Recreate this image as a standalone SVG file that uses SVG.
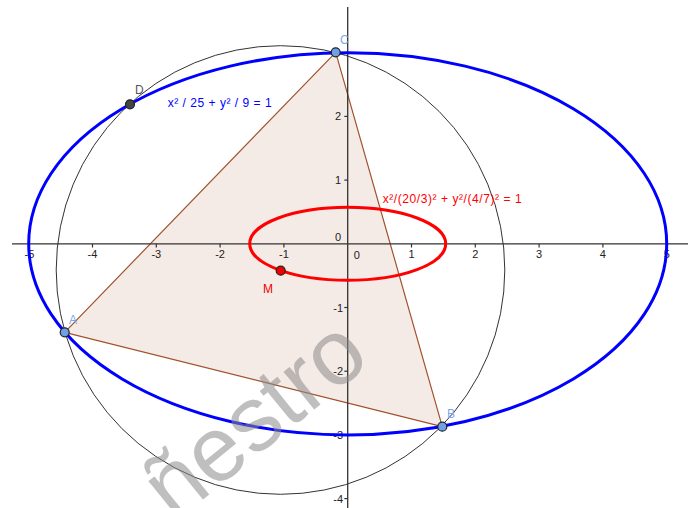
<svg xmlns="http://www.w3.org/2000/svg" width="696" height="508" viewBox="0 0 696 508">
<style>
  .axis { stroke: #333; stroke-width: 1.3; fill: none; }
  .tick { stroke: #333; stroke-width: 1.2; }
  .tl { font-family: "Liberation Sans", Arial, sans-serif; font-size: 11px; fill: #222; }
  .tx { text-anchor: middle; }
  .ty { text-anchor: end; }
  .lbl { font-family: "Liberation Sans", Arial, sans-serif; font-size: 12px; }
  .pt { stroke: #222; stroke-width: 1.2; }
</style>
<rect width="696" height="508" fill="#ffffff"/>

<g id="triangle">
  <polygon points="64.7,332.3 442.3,426.7 335.7,52.3" fill="#f5ebe6" stroke="#a0522d" stroke-width="1.2" stroke-linejoin="round"/>
</g>

<g id="axes">
  <line class="axis" x1="12" y1="243.8" x2="688" y2="243.8"/>
  <line class="axis" x1="347.7" y1="7" x2="347.7" y2="508"/>
  <g id="xticks">
    <line class="tick" x1="28.7" y1="243.8" x2="28.7" y2="247.5"/>
    <line class="tick" x1="92.5" y1="243.8" x2="92.5" y2="247.5"/>
    <line class="tick" x1="156.3" y1="243.8" x2="156.3" y2="247.5"/>
    <line class="tick" x1="220.1" y1="243.8" x2="220.1" y2="247.5"/>
    <line class="tick" x1="283.9" y1="243.8" x2="283.9" y2="247.5"/>
    <line class="tick" x1="411.5" y1="243.8" x2="411.5" y2="247.5"/>
    <line class="tick" x1="475.3" y1="243.8" x2="475.3" y2="247.5"/>
    <line class="tick" x1="539.1" y1="243.8" x2="539.1" y2="247.5"/>
    <line class="tick" x1="602.9" y1="243.8" x2="602.9" y2="247.5"/>
    <line class="tick" x1="666.7" y1="243.8" x2="666.7" y2="247.5"/>
  </g>
  <g id="yticks">
    <line class="tick" x1="344.3" y1="116.4" x2="347.7" y2="116.4"/>
    <line class="tick" x1="344.3" y1="180.1" x2="347.7" y2="180.1"/>
    <line class="tick" x1="344.3" y1="307.5" x2="347.7" y2="307.5"/>
    <line class="tick" x1="344.3" y1="371.2" x2="347.7" y2="371.2"/>
    <line class="tick" x1="344.3" y1="434.9" x2="347.7" y2="434.9"/>
    <line class="tick" x1="344.3" y1="498.6" x2="347.7" y2="498.6"/>
  </g>
  <g id="xlabels" class="tl tx">
    <text x="29.5" y="258">-5</text>
    <text x="92.5" y="258">-4</text>
    <text x="156.3" y="258">-3</text>
    <text x="220.1" y="258">-2</text>
    <text x="283.9" y="258">-1</text>
    <text x="356.7" y="259">0</text>
    <text x="411.5" y="258">1</text>
    <text x="475.3" y="258">2</text>
    <text x="539.1" y="258">3</text>
    <text x="602.9" y="258">4</text>
    <text x="666.7" y="258">5</text>
  </g>
  <g id="ylabels" class="tl ty">
    <text x="341" y="120.4">2</text>
    <text x="341" y="184">1</text>
    <text x="341" y="241">0</text>
    <text x="343" y="311.5">-1</text>
    <text x="343" y="375">-2</text>
    <text x="343" y="439">-3</text>
    <text x="343" y="502.5">-4</text>
  </g>
</g>

<g id="circle">
  <circle cx="280.5" cy="270" r="224.3" fill="none" stroke="#333" stroke-width="1"/>
</g>

<g id="ellipse-blue">
  <ellipse cx="347.7" cy="243.8" rx="319" ry="191.1" fill="none" stroke="#0000ff" stroke-width="3"/>
  <text class="lbl" x="167.7" y="106.7" fill="#0000ff" font-size="12.5" textLength="104" lengthAdjust="spacing">x² / 25 + y² / 9 = 1</text>
</g>

<g id="ellipse-red">
  <ellipse cx="347.7" cy="243.8" rx="98" ry="36.5" fill="none" stroke="#ff0000" stroke-width="3"/>
  <text class="lbl" x="382.7" y="203.3" fill="#ff0000" font-size="12.5" textLength="139" lengthAdjust="spacing">x²/(20/3)² + y²/(4/7)² = 1</text>
</g>

<g id="watermark">
  <text x="174" y="523" transform="rotate(-39 174 523)" font-family="Liberation Sans, Arial, sans-serif" font-size="92" fill="#8a8a8a" fill-opacity="0.55">ñestro</text>
</g>

<g id="point-A">
  <circle class="pt" cx="64.7" cy="332.3" r="4.5" fill="#6f9fe6"/>
  <text class="lbl" x="69" y="323.5" fill="#7fa6ee">A</text>
</g>
<g id="point-B">
  <circle class="pt" cx="442.3" cy="426.7" r="4.5" fill="#6f9fe6"/>
  <text class="lbl" x="447" y="417.5" fill="#7fa6ee">B</text>
</g>
<g id="point-C">
  <circle class="pt" cx="335.7" cy="52.3" r="4.5" fill="#6f9fe6"/>
  <text class="lbl" x="340" y="43.5" fill="#7fa6ee">C</text>
</g>
<g id="point-D">
  <circle class="pt" cx="130" cy="104.3" r="4.5" fill="#444444"/>
  <text class="lbl" x="135" y="94" fill="#555555">D</text>
</g>
<g id="point-M">
  <circle class="pt" cx="280.7" cy="270.7" r="4.5" fill="#ee0000"/>
  <text class="lbl" x="263" y="293" fill="#ee0000">M</text>
</g>
</svg>
